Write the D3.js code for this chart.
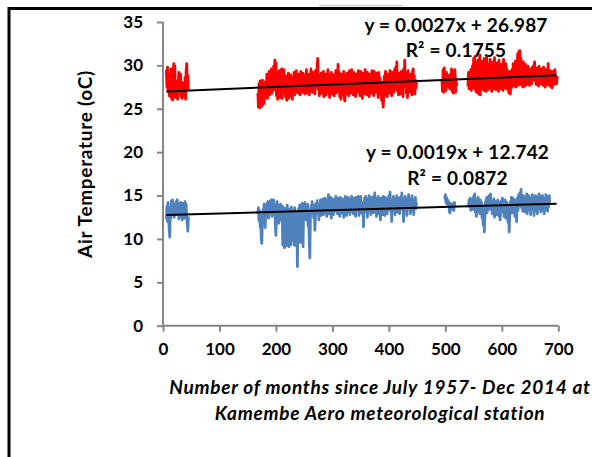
<!DOCTYPE html>
<html>
<head>
<meta charset="utf-8">
<script src="https://cdn.jsdelivr.net/npm/d3@7"></script>
<style>
  html, body { margin: 0; padding: 0; background: #fff; }
  svg { display: block; }
  text { font-family: Lato, "Open Sans", sans-serif; font-weight: bold; fill: #000; }
</style>
</head>
<body>
<svg id="chart" width="592" height="457"></svg>
<script>
// Monthly mean maximum / minimum air temperature (°C), Kamembe Aero.
// Each record block is a run of consecutive months starting at the given month index.
const maxStarts = [6, 168, 494, 540];
const maxBlock1 = [29.5,27.5,29.8,27.0,28.5,26.5,29.0,27.2,29.6,26.2,28.0,26.0,28.8,30.2,27.5,29.9,26.3,28.2,26.8,27.5,
  26.1,27.8,29.2,28.4,27.0,29.0,26.4,27.6,26.2,28.0,26.4,27.2,26.5,28.6,26.1,29.4,30.2,27.6,28.8,27.0];
const maxBlock2 = [26.8,25.2,27.9,25.1,28.2,25.4,27.6,25.3,28.3,26.0,
  27.4,25.6,28.1,26.3,27.8,26.9,29.0,26.2,28.6,27.1,
  29.3,26.6,28.9,27.4,29.6,26.8,28.4,27.9,29.9,27.2,
  30.6,28.1,30.3,26.5,29.2,26.1,28.7,27.5,29.4,26.3,
  28.5,27.0,29.6,26.2,28.3,26.9,29.5,27.3,28.0,26.4,
  28.8,26.0,27.9,26.7,29.1,26.2,28.4,27.4,28.9,26.5,
  27.8,26.1,28.6,27.2,29.2,26.6,28.1,26.9,29.4,27.0,
  28.3,26.8,29.0,27.5,28.7,26.6,29.3,27.1,28.5,26.9,
  29.1,27.3,28.2,26.7,28.9,27.6,29.5,26.8,28.4,27.2,
  29.0,26.6,28.6,27.8,29.6,27.0,28.3,26.9,29.2,27.4,
  28.8,26.7,29.4,27.5,28.5,29.8,30.8,27.2,28.9,26.5,
  28.2,27.4,29.1,26.8,28.6,27.0,29.3,26.4,28.0,27.3,
  29.0,26.6,28.4,27.7,29.5,26.9,28.1,26.3,28.8,27.1,
  29.2,26.7,28.3,27.5,28.9,26.5,28.6,27.2,29.4,26.8,
  28.4,27.6,30.1,27.0,29.2,26.4,28.7,26.1,29.0,27.3,
  28.5,26.6,29.3,26.2,25.9,27.8,28.9,26.7,29.1,27.2,
  28.2,26.5,29.4,27.0,28.6,26.8,29.5,27.4,28.3,26.6,
  29.2,27.1,28.7,26.4,29.0,27.6,28.5,26.9,29.4,27.3,
  28.1,26.5,29.3,27.0,28.8,26.2,29.1,27.5,28.4,26.7,
  29.5,27.2,28.6,26.6,29.2,27.8,28.3,26.4,29.0,27.1,
  28.7,26.8,29.4,27.3,28.2,26.5,29.3,27.6,28.9,26.9,
  29.1,27.0,28.5,26.3,29.2,27.4,28.6,26.7,28.1,26.0,
  27.6,25.8,25.2,27.1,28.8,26.6,29.3,27.2,28.4,26.4,
  29.0,27.5,28.7,26.8,29.4,27.0,28.3,26.5,29.2,27.7,
  28.6,26.9,29.5,27.3,29.8,27.6,30.4,27.1,28.8,26.6,
  29.1,27.4,28.5,26.7,29.3,27.0,28.9,26.4,29.6,27.8,
  30.6,27.5,29.2,26.8,28.7,26.3,29.4,27.1,28.6,26.9,
  29.0,27.3,28.4,26.6,29.3,29.6,27.2,28.8,26.7,28.3,
  27.4,28.1];
const maxBlock3 = [28.2,27.0,29.5,26.9,29.7,27.4,28.6,27.1,29.2,28.0,
  27.5,28.4,27.8,28.9,27.3,28.1,27.9,29.6,27.0,29.4,
  26.8,28.7,27.2,29.5,26.9,28.5,27.6];
const maxBlock4 = [27.6,29.2,27.3,28.8,27.9,29.5,27.1,28.4,29.9,27.4,
  30.8,27.9,31.0,27.2,30.4,26.9,29.8,27.5,30.6,26.7,
  29.4,31.2,26.6,29.9,27.3,30.5,27.8,29.6,27.1,30.8,
  27.5,29.9,27.0,31.0,27.6,30.2,27.2,29.5,27.8,30.7,
  27.4,29.8,27.0,30.4,27.7,29.3,27.3,30.9,27.9,29.6,
  27.2,30.3,27.6,29.4,27.0,30.6,27.5,29.8,27.3,30.1,
  27.8,29.5,27.1,30.7,27.4,29.2,27.9,30.2,27.3,29.6,
  27.6,28.9,27.0,26.8,29.3,26.7,28.6,27.4,29.5,27.9,
  30.2,27.6,29.7,28.1,30.5,27.5,29.9,28.3,31.3,27.7,
  31.6,28.0,31.7,27.8,30.8,28.4,29.6,27.5,30.4,28.1,
  29.8,27.6,30.1,28.2,29.4,27.8,29.9,28.3,29.2,27.7,
  29.6,28.0,29.3,27.9,29.8,28.4,29.1,30.0,30.4,28.2,
  29.5,27.8,29.7,28.3,29.2,27.6,29.9,28.1,29.4,27.9,
  29.6,28.4,29.1,27.7,29.8,28.2,29.3,27.5,29.5,28.0,
  29.2,27.8,30.2,28.3,29.0,27.6,29.4,28.1,28.9,27.4,
  29.3,28.0,28.7,27.8,29.5,28.2,28.6,27.9,28.8];

const minStarts = [6, 168, 499, 541];
const minBlock1 = [12.3,13.8,12.0,14.2,12.6,11.1,10.2,13.5,12.4,14.4,
  12.9,14.5,13.1,14.0,12.5,13.6,12.8,14.3,13.2,14.5,
  12.9,14.1,12.3,13.9,12.6,14.2,13.0,13.7,12.2,14.1,
  12.7,13.9,12.4,14.3,13.1,14.0,12.5,11.8,10.9,12.6];
const minBlock2 = [12.8,13.6,12.1,13.2,11.4,12.6,9.9,9.5,12.3,13.4,
  12.7,14.0,13.1,11.3,13.6,12.5,14.1,13.0,14.3,12.4,
  13.8,12.9,14.4,13.3,14.5,12.6,14.2,13.5,14.5,12.8,
  13.9,11.5,10.4,13.1,14.3,12.7,13.6,11.8,13.9,12.5,
  14.0,13.2,12.1,13.8,9.3,12.9,13.6,9.0,12.4,13.5,
  9.2,12.8,13.9,10.1,12.6,9.1,13.4,12.2,9.3,13.7,
  12.5,9.8,13.2,12.0,9.3,13.6,10.4,12.8,9.2,13.1,
  6.8,11.9,13.5,12.4,13.9,9.6,13.2,12.6,14.1,12.9,
  9.1,13.7,12.8,14.2,13.1,12.2,13.9,12.7,14.0,11.5,
  12.9,9.8,7.8,12.6,13.8,12.9,14.3,13.0,13.7,12.4,
  13.9,11.0,12.8,14.1,13.2,14.4,12.9,13.8,12.2,14.0,
  13.3,14.5,12.7,13.9,13.4,14.6,12.8,14.2,13.5,14.7,
  13.0,14.3,12.6,14.5,13.6,15.1,12.9,14.1,13.4,14.8,
  12.4,14.2,13.7,14.6,12.8,13.9,14.4,13.2,14.9,13.6,
  14.3,12.9,14.7,13.4,14.1,12.6,14.8,13.5,14.2,13.0,
  14.6,13.7,12.5,14.4,13.3,14.9,13.8,12.7,14.5,13.4,
  14.8,13.1,14.2,12.8,14.6,13.5,14.9,13.2,14.3,12.9,
  14.7,13.6,14.1,12.6,14.8,13.3,14.5,13.8,14.9,12.7,
  14.4,13.5,14.9,13.0,14.2,12.9,13.6,11.4,13.8,14.7,
  13.4,14.9,13.1,14.6,12.5,14.3,13.7,15.0,13.2,14.5,
  12.8,14.8,13.6,14.4,13.0,14.9,13.5,15.3,13.1,14.6,
  12.6,14.2,13.8,14.9,12.9,14.5,13.4,12.2,14.7,13.3,
  14.4,12.8,14.9,13.5,14.1,12.7,14.8,13.6,14.3,12.9,
  14.6,13.4,15.0,13.8,15.4,13.2,14.5,12.0,14.2,13.7,
  14.9,13.3,14.6,12.8,14.4,13.9,15.0,13.1,14.7,13.5,
  14.3,12.9,14.8,13.6,14.5,15.3,13.4,14.2,12.0,14.6,
  13.8,14.9,13.3,14.4,12.7,14.7,13.9,15.1,13.5,14.3,
  12.9,14.6,13.7,15.0,13.2,14.4,12.8,14.5,13.6,14.8,
  13.5,14.2];
const minBlock3 = [14.6,15.1,14.2,14.8,14.0,14.5,13.9,14.3,13.2,13.0,
  13.8,14.1,13.4,14.0,13.6,13.9,13.3,14.2,13.7];
const minBlock4 = [13.6,14.5,13.9,14.7,13.3,14.2,13.8,14.6,13.4,14.9,
  13.7,15.2,13.1,14.4,12.6,14.1,13.5,14.8,13.2,14.0,
  12.9,14.5,13.6,14.2,12.4,13.8,11.6,13.3,10.8,12.7,
  14.3,13.5,14.8,13.0,14.6,13.9,15.0,13.4,14.7,15.2,
  13.6,14.4,12.9,14.1,13.2,14.6,12.5,13.8,14.3,12.8,
  14.0,13.4,14.5,12.7,13.9,14.2,12.2,13.6,14.4,13.1,
  14.7,13.5,14.1,12.6,13.8,14.5,12.4,13.3,14.2,12.9,
  11.9,13.4,10.8,12.9,14.3,13.5,14.8,13.0,14.2,14.7,
  13.4,14.1,12.6,13.9,14.5,12.0,13.7,14.8,13.3,15.1,
  13.8,15.3,14.0,15.7,13.6,14.9,13.2,15.0,13.9,14.6,
  13.1,14.8,13.5,15.2,12.9,14.4,13.7,15.0,13.3,14.7,
  12.8,14.5,13.9,15.1,13.4,14.3,12.7,14.9,13.6,15.0,
  13.2,14.6,12.9,14.8,13.5,15.2,13.8,14.4,13.1,14.9,
  13.6,15.0,13.3,14.7,12.9,14.5,13.8,15.1,13.4,14.6,
  13.2,14.9,13.7,15.0,14.2];

// Linear trends (slope, intercept) over the monthly index, and the span they cover
const maxTrend = [0.0027, 26.987];
const minTrend = [0.0019, 12.742];
const trendSpan = [6, 697];
const maxLabels = ["y = 0.0027x + 26.987", "R² = 0.1755"];
const minLabels = ["y = 0.0019x + 12.742", "R² = 0.0872"];

const xTicks = [0, 100, 200, 300, 400, 500, 600, 700];
const yTicks = [0, 5, 10, 15, 20, 25, 30, 35];
const yTitle = "Air Temperature (oC)";
const xTitle = ["Number of months since July 1957- Dec 2014 at", "Kamembe Aero meteorological station"];

const svg = d3.select("#chart");

// Outer frame (left and top edges)
svg.append("path")
  .attr("d", "M9,457 L9,8.5 L592,8.5")
  .attr("fill", "none").attr("stroke", "#000").attr("stroke-width", 3);
svg.append("line").attr("x1", 319).attr("x2", 403).attr("y1", 5.5).attr("y2", 5.5)
  .attr("stroke", "#d0d0d0").attr("stroke-width", 1.5);

const x = d3.scaleLinear().domain([0, 700]).range([163, 558.3]);
const y = d3.scaleLinear().domain([0, 35]).range([325.7, 22]);

// Axes
const axisColor = "#868686";
const gy = svg.append("g").attr("transform", `translate(${x(0)},0)`)
  .call(d3.axisLeft(y).tickValues(yTicks).tickSize(6).tickPadding(14).tickSizeOuter(0));
const gx = svg.append("g").attr("transform", `translate(0,${y(0)})`)
  .call(d3.axisBottom(x).tickValues(xTicks).tickSize(6).tickPadding(11).tickSizeOuter(0));
[gx, gy].forEach(g => {
  g.select(".domain").attr("stroke", axisColor).attr("stroke-width", 2);
  g.selectAll(".tick line").attr("stroke", axisColor).attr("stroke-width", 2);
  g.selectAll(".tick text").attr("fill", "#000")
    .style("font-family", "Lato, sans-serif").style("font-weight", "bold").style("font-size", "17px");
});
gy.select(".domain").attr("d", `M0,${y(0)}V${y(35)}`);
gx.select(".domain").attr("d", `M${x(0)},0H${x(700)}`);

// Series
function toPoints(starts, blocks) {
  const pts = [];
  blocks.forEach((vals, b) => {
    if (b > 0) pts.push(null);
    vals.forEach((v, i) => pts.push({ m: starts[b] + i, v }));
  });
  return pts;
}
const maxPts = toPoints(maxStarts, [maxBlock1, maxBlock2, maxBlock3, maxBlock4]);
const minPts = toPoints(minStarts, [minBlock1, minBlock2, minBlock3, minBlock4]);

const line = d3.line().defined(d => d !== null).x(d => x(d.m)).y(d => y(d.v));

svg.append("path").datum(maxPts).attr("d", line)
  .attr("fill", "none").attr("stroke", "#FF0000").attr("stroke-width", 2.8)
  .attr("stroke-linejoin", "round");
svg.append("path").datum(minPts).attr("d", line)
  .attr("fill", "none").attr("stroke", "#4F81BD").attr("stroke-width", 2.8)
  .attr("stroke-linejoin", "round");

// Trend lines
[maxTrend, minTrend].forEach(([a, b]) => {
  svg.append("line")
    .attr("x1", x(trendSpan[0])).attr("y1", y(a * trendSpan[0] + b))
    .attr("x2", x(trendSpan[1])).attr("y2", y(a * trendSpan[1] + b))
    .attr("stroke", "#000").attr("stroke-width", 2);
});

// Trend equations
function eqLabel(lines, cx, y0) {
  lines.forEach((t, i) => {
    svg.append("text").attr("x", cx).attr("y", y0 + i * 25.6)
      .attr("text-anchor", "middle").style("font-size", "19px")
      .style("letter-spacing", "0.2px").text(t);
  });
}
eqLabel(maxLabels, 456, 31.7);
eqLabel(minLabels, 457.5, 159.3);

// Axis titles
svg.append("text")
  .attr("transform", "translate(92,164) rotate(-90)")
  .attr("text-anchor", "middle").style("font-size", "19px")
  .style("letter-spacing", "0.7px").text(yTitle);
xTitle.forEach((t, i) => {
  svg.append("text").attr("x", 380).attr("y", 394 + i * 26)
    .attr("text-anchor", "middle").style("font-style", "italic").style("font-size", "19px")
    .style("letter-spacing", "0.75px").text(t);
});
</script>
</body>
</html>
